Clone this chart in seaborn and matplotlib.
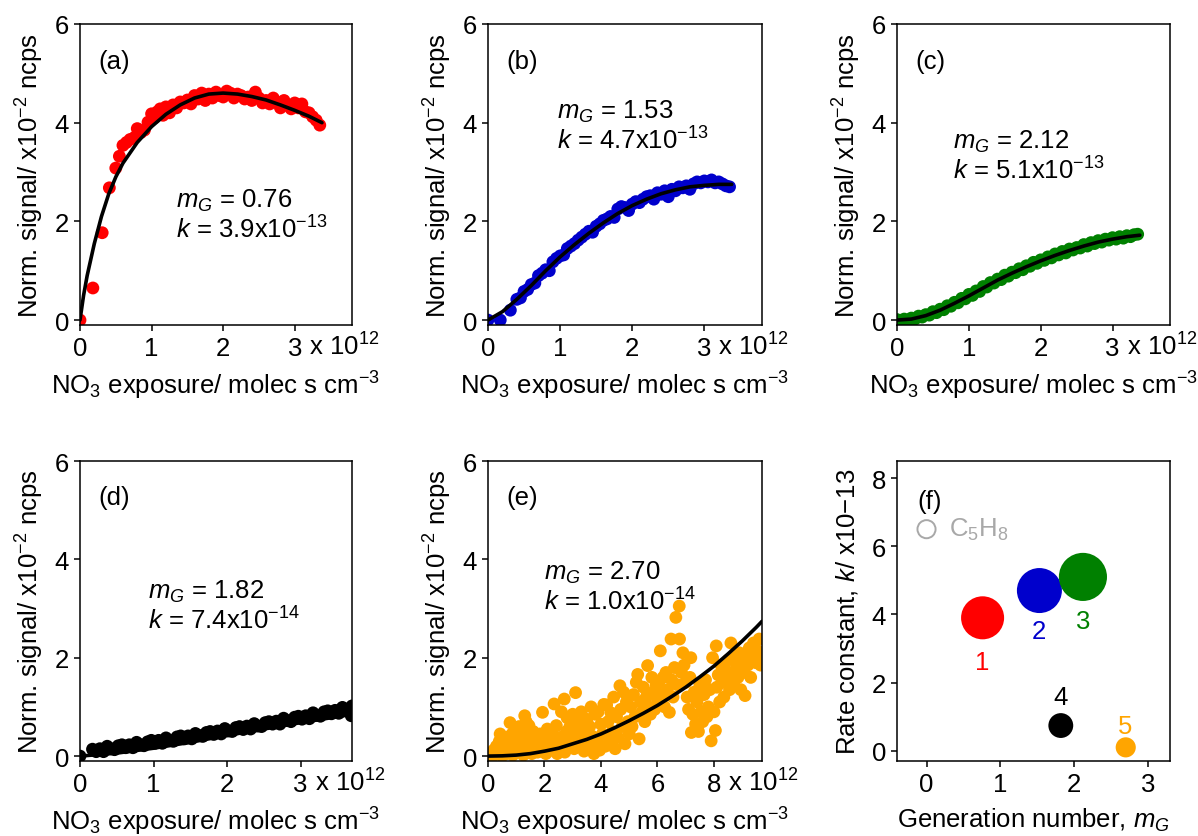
import matplotlib
matplotlib.use("Agg")
import matplotlib.pyplot as plt
import numpy as np
import pandas as pd
import seaborn as sns

# ---------------- data ----------------
# (a) red
a_x = [0.00, 0.18, 0.31, 0.41, 0.50, 0.55, 0.60, 0.65, 0.70, 0.76, 0.80, 0.85, 0.90, 0.95, 1.00, 1.04, 1.08,
       1.12, 1.16, 1.20, 1.25, 1.30, 1.35, 1.40, 1.45, 1.50, 1.55, 1.60, 1.65, 1.70, 1.75, 1.80, 1.85, 1.90,
       1.95, 2.00, 2.05, 2.10, 2.15, 2.20, 2.25, 2.30, 2.35, 2.40, 2.45, 2.50, 2.55, 2.60, 2.65, 2.70, 2.75,
       2.80, 2.85, 2.90, 2.95, 3.00, 3.05, 3.10, 3.15, 3.20, 3.25, 3.30, 3.35]
a_y = [0.00, 0.65, 1.77, 2.68, 3.08, 3.32, 3.54, 3.60, 3.66, 3.70, 3.88, 3.80, 3.85, 4.01, 4.18, 4.10, 4.22,
       4.28, 4.15, 4.32, 4.20, 4.36, 4.30, 4.42, 4.40, 4.46, 4.38, 4.55, 4.48, 4.60, 4.45, 4.58, 4.50, 4.62,
       4.55, 4.52, 4.64, 4.60, 4.50, 4.58, 4.55, 4.48, 4.52, 4.45, 4.62, 4.50, 4.40, 4.45, 4.38, 4.50, 4.42,
       4.30, 4.45, 4.35, 4.28, 4.40, 4.30, 4.38, 4.22, 4.20, 4.12, 4.05, 3.95]
a_fit_x = [0, 0.05, 0.1, 0.2, 0.3, 0.4, 0.5, 0.6, 0.8, 1.0, 1.2, 1.4, 1.6, 1.8, 2.0, 2.2, 2.4, 2.6, 2.8, 3.0, 3.2, 3.38]
a_fit_y = [0, 0.5, 0.9, 1.55, 2.1, 2.55, 2.9, 3.18, 3.6, 3.92, 4.17, 4.36, 4.5, 4.58, 4.6, 4.58, 4.53, 4.46,
           4.36, 4.25, 4.13, 4.0]

# (b) blue
b_x = [0.00, 0.17, 0.31, 0.40, 0.45, 0.50, 0.55, 0.60, 0.65, 0.70, 0.75, 0.80, 0.85, 0.90, 0.95, 1.00, 1.05,
       1.10, 1.15, 1.20, 1.25, 1.30, 1.35, 1.40, 1.45, 1.50, 1.55, 1.60, 1.65, 1.70, 1.75, 1.80, 1.85, 1.90,
       1.95, 2.00, 2.05, 2.10, 2.15, 2.20, 2.25, 2.30, 2.35, 2.40, 2.45, 2.50, 2.55, 2.60, 2.65, 2.70, 2.75,
       2.80, 2.85, 2.90, 2.95, 3.00, 3.05, 3.10, 3.15, 3.20, 3.25, 3.30, 3.35]
b_y = [0.00, 0.00, 0.20, 0.42, 0.45, 0.58, 0.62, 0.72, 0.75, 0.90, 0.95, 1.02, 1.00, 1.18, 1.25, 1.30, 1.32,
       1.45, 1.50, 1.55, 1.62, 1.68, 1.74, 1.80, 1.78, 1.90, 1.95, 2.02, 2.05, 2.10, 2.08, 2.25, 2.30, 2.28,
       2.22, 2.35, 2.40, 2.38, 2.45, 2.50, 2.52, 2.45, 2.58, 2.55, 2.62, 2.50, 2.65, 2.62, 2.70, 2.68, 2.72,
       2.65, 2.76, 2.80, 2.78, 2.82, 2.80, 2.84, 2.78, 2.80, 2.76, 2.72, 2.70]
b_fit_x = [0, 0.2, 0.4, 0.6, 0.8, 1.0, 1.2, 1.4, 1.6, 1.8, 2.0, 2.2, 2.4, 2.6, 2.8, 3.0, 3.2, 3.38]
b_fit_y = [0, 0.17, 0.42, 0.7, 1.0, 1.28, 1.53, 1.76, 1.97, 2.16, 2.32, 2.45, 2.56, 2.64, 2.70, 2.73, 2.75, 2.75]

# (c) green
c_x = [0.00, 0.05, 0.10, 0.15, 0.20, 0.25, 0.30, 0.35, 0.40, 0.45, 0.50, 0.55, 0.60, 0.65, 0.70, 0.75, 0.80,
       0.85, 0.90, 0.95, 1.00, 1.05, 1.10, 1.15, 1.20, 1.25, 1.30, 1.35, 1.40, 1.45, 1.50, 1.55, 1.60, 1.65,
       1.70, 1.75, 1.80, 1.85, 1.90, 1.95, 2.00, 2.05, 2.10, 2.15, 2.20, 2.25, 2.30, 2.35, 2.40, 2.45, 2.50,
       2.55, 2.60, 2.65, 2.70, 2.75, 2.80, 2.85, 2.90, 2.95, 3.00, 3.05, 3.10, 3.15, 3.20, 3.25, 3.30, 3.35]
c_y = [0.01, -0.01, 0.02, 0.00, 0.04, 0.02, 0.08, 0.06, 0.11, 0.10, 0.17, 0.15, 0.22, 0.21, 0.29, 0.28, 0.36,
       0.35, 0.44, 0.43, 0.52, 0.50, 0.59, 0.58, 0.68, 0.67, 0.76, 0.75, 0.83, 0.82, 0.91, 0.89, 0.97, 0.96,
       1.04, 1.02, 1.10, 1.09, 1.17, 1.15, 1.22, 1.21, 1.28, 1.26, 1.34, 1.32, 1.39, 1.36, 1.44, 1.42, 1.47,
       1.46, 1.53, 1.50, 1.57, 1.55, 1.61, 1.58, 1.64, 1.62, 1.67, 1.64, 1.69, 1.66, 1.71, 1.69, 1.73, 1.74]
c_fit_x = [0, 0.2, 0.4, 0.6, 0.8, 1.0, 1.2, 1.4, 1.6, 1.8, 2.0, 2.2, 2.4, 2.6, 2.8, 3.0, 3.2, 3.38]
c_fit_y = [0, 0.02, 0.09, 0.20, 0.34, 0.49, 0.65, 0.81, 0.95, 1.08, 1.20, 1.31, 1.41, 1.50, 1.58, 1.64, 1.69, 1.72]

# (d) black
d_x = [0.00, 0.17, 0.22, 0.27, 0.32, 0.37, 0.42, 0.47, 0.52, 0.57, 0.62, 0.67, 0.72, 0.77, 0.82, 0.87, 0.92,
       0.97, 1.02, 1.07, 1.12, 1.17, 1.22, 1.27, 1.32, 1.37, 1.42, 1.47, 1.52, 1.57, 1.62, 1.67, 1.72, 1.77,
       1.82, 1.87, 1.92, 1.97, 2.02, 2.07, 2.12, 2.17, 2.22, 2.27, 2.32, 2.37, 2.42, 2.47, 2.52, 2.57, 2.62,
       2.67, 2.72, 2.77, 2.82, 2.87, 2.92, 2.97, 3.02, 3.07, 3.12, 3.17, 3.22, 3.27, 3.32, 3.37, 3.42, 3.47,
       3.52, 3.57, 3.62, 3.67, 3.69, 3.70]
d_y = [0.00, 0.14, 0.09, 0.15, 0.09, 0.20, 0.15, 0.13, 0.21, 0.23, 0.17, 0.23, 0.17, 0.28, 0.23, 0.21, 0.29,
       0.32, 0.26, 0.32, 0.26, 0.37, 0.32, 0.30, 0.39, 0.41, 0.35, 0.41, 0.35, 0.46, 0.42, 0.40, 0.48, 0.50,
       0.44, 0.51, 0.45, 0.56, 0.51, 0.50, 0.58, 0.60, 0.54, 0.61, 0.55, 0.66, 0.61, 0.60, 0.68, 0.70, 0.65,
       0.71, 0.65, 0.77, 0.72, 0.70, 0.79, 0.81, 0.75, 0.82, 0.76, 0.88, 0.83, 0.81, 0.90, 0.92, 0.86, 0.93,
       0.87, 0.99, 0.94, 0.93, 0.82, 1.02]
d_fit_x = [0, 0.5, 1.0, 1.5, 2.0, 2.5, 3.0, 3.5, 3.7]
d_fit_y = [0, 0.06, 0.16, 0.28, 0.42, 0.55, 0.68, 0.80, 0.85]

# (e) orange
e_x = [0.05, 0.10, 0.15, 0.20, 0.25, 0.30, 0.35, 0.40, 0.43, 0.45, 0.50, 0.55, 0.60, 0.62, 0.65, 0.70, 0.75,
       0.78, 0.80, 0.85, 0.88, 0.90, 0.95, 0.98,
       1.00, 1.05, 1.10, 1.12, 1.15, 1.20, 1.25, 1.28, 1.30, 1.32, 1.35, 1.40, 1.42, 1.45, 1.50, 1.52, 1.55,
       1.60, 1.62, 1.65, 1.70, 1.75, 1.78, 1.80, 1.85, 1.90, 1.93, 1.95, 2.00,
       2.05, 2.10, 2.15, 2.20, 2.25, 2.30, 2.34, 2.38, 2.42, 2.45, 2.50, 2.55, 2.60, 2.65, 2.70, 2.72, 2.78,
       2.80, 2.85, 2.90, 2.95, 3.00,
       3.05, 3.10, 3.15, 3.20, 3.25, 3.30, 3.35, 3.40, 3.45, 3.50, 3.55, 3.60, 3.65, 3.70, 3.75, 3.80, 3.85,
       3.90, 3.95, 4.00,
       4.05, 4.10, 4.15, 4.20, 4.25, 4.30, 4.35, 4.40, 4.45, 4.50, 4.55, 4.60, 4.67, 4.70, 4.75, 4.80, 4.85,
       4.90, 4.95, 5.00,
       5.05, 5.10, 5.15, 5.20, 5.25, 5.30, 5.35, 5.40, 5.45, 5.50, 5.55, 5.60, 5.65, 5.70, 5.75, 5.80, 5.85,
       5.90, 5.95, 6.00,
       6.05, 6.10, 6.15, 6.20, 6.25, 6.30, 6.35, 6.42, 6.48, 6.50, 6.55, 6.60, 6.65, 6.70, 6.77, 6.78, 6.85,
       6.90, 6.94, 7.00,
       7.05, 7.10, 7.15, 7.18, 7.20, 7.25, 7.30, 7.35, 7.40, 7.45, 7.50, 7.55, 7.60, 7.65, 7.70, 7.75, 7.80,
       7.85, 7.90, 7.95, 8.00,
       8.05, 8.08, 8.10, 8.15, 8.20, 8.25, 8.30, 8.35, 8.40, 8.45, 8.50, 8.55, 8.60, 8.65, 8.70, 8.75, 8.80,
       8.85, 8.90, 8.95, 9.00, 9.05, 9.10, 9.15, 9.20, 9.25, 9.30, 9.35, 9.40, 9.45, 9.48, 9.52, 9.56, 9.60,
       9.65]
e_y = [0.02, 0.05, 0.00, 0.12, 0.03, 0.20, 0.08, 0.30, 0.45, 0.15, 0.00, 0.25, 0.10, 0.38, 0.05, 0.20, 0.30,
       0.68, 0.12, 0.45, 0.02, 0.28, 0.18, 0.50,
       0.08, 0.35, 0.60, 0.15, 0.42, 0.25, 0.02, 0.55, 0.82, 0.30, 0.70, 0.12, 0.45, 0.62, 0.20, 0.35, 0.05,
       0.50, 0.28, 0.15, 0.40, 0.08, 0.30, 0.20, 0.45, 0.10, 0.89, 0.25, 0.38,
       0.05, 0.55, 0.20, 0.30, 0.12, 0.45, 1.06, 0.25, 0.62, 0.05, 0.35, 0.18, 0.90, 0.40, 1.16, 0.08, 0.50,
       0.78, 0.22, 0.60, 0.32, 0.85,
       0.15, 1.29, 0.48, 0.70, 0.25, 0.90, 0.55, 0.10, 0.35, 0.75, 0.20, 0.60, 1.00, 0.40, 0.05, 0.85, 0.30,
       0.90, 0.12, 0.65,
       0.45, 1.05, 0.20, 1.04, 0.70, 0.30, 0.88, 0.50, 1.20, 0.15, 0.80, 0.38, 1.43, 0.95, 0.60, 1.30, 0.25,
       1.10, 0.70, 0.45,
       1.00, 0.60, 1.25, 0.80, 1.50, 1.66, 0.35, 1.10, 0.90, 1.40, 0.70, 1.20, 1.84, 1.00, 0.85, 1.60, 1.30,
       0.95, 1.45, 1.15,
       1.50, 2.14, 1.25, 1.60, 1.00, 1.70, 1.35, 0.89, 2.38, 1.55, 1.20, 1.80, 2.82, 1.45, 3.05, 2.38, 1.70,
       2.10, 1.85, 1.50,
       1.20, 0.95, 1.60, 2.00, 0.48, 0.85, 1.30, 0.65, 1.10, 0.50, 1.45, 0.90, 0.70, 1.25, 1.55, 0.80, 1.00,
       1.35, 0.31, 2.00, 0.90,
       0.52, 2.24, 1.40, 1.65, 1.10, 1.85, 1.50, 1.20, 1.75, 1.55, 1.95, 1.35, 2.30, 1.70, 1.45, 2.00, 1.80,
       1.60, 2.10, 1.35, 1.90, 1.70, 1.23, 2.05, 1.85, 2.20, 1.60, 2.00, 2.30, 1.95, 1.90, 2.15, 2.00, 2.38,
       1.85]
e_fit_x = [0, 0.5, 1, 1.5, 2, 2.5, 3, 3.5, 4, 4.5, 5, 5.5, 6, 6.5, 7, 7.5, 8, 8.5, 9, 9.5, 9.7]
e_fit_y = [0, 0.005, 0.02, 0.05, 0.10, 0.16, 0.25, 0.34, 0.45, 0.58, 0.72, 0.87, 1.03, 1.21, 1.40, 1.61,
           1.83, 2.08, 2.34, 2.62, 2.74]

# (f) summary
f_labels = ["1", "2", "3", "4", "5"]
f_mG = [0.76, 1.53, 2.12, 1.82, 2.70]
f_k = [3.9, 4.7, 5.1, 0.74, 0.10]
f_colors = ["#ff0000", "#0000cc", "#008000", "#000000", "#ffa500"]
f_sizes = [960, 1050, 1200, 320, 210]
f_lab_pos = [(0.76, 2.6), (1.52, 3.5), (2.12, 3.8), (1.82, 1.58), (2.69, 0.73)]
isoprene_pos = (0.0, 6.5)

# ---------------- style ----------------
FS = 18.5
sns.set_style("ticks")
plt.rcParams.update({
    "font.family": ["Liberation Sans", "DejaVu Sans"],
    "font.size": FS,
    "mathtext.fontset": "custom",
    "mathtext.rm": "Liberation Sans",
    "mathtext.it": "Liberation Sans:italic",
    "mathtext.default": "regular",
    "axes.linewidth": 1.1,
    "axes.edgecolor": "black",
    "axes.labelcolor": "black",
    "text.color": "black",
    "xtick.color": "black",
    "ytick.color": "black",
    "xtick.direction": "out",
    "ytick.direction": "out",
    "xtick.major.size": 4,
    "ytick.major.size": 4,
    "xtick.major.width": 1.1,
    "ytick.major.width": 1.1,
    "xtick.major.pad": 4,
    "ytick.major.pad": 4,
    "xtick.labelsize": FS,
    "ytick.labelsize": FS,
    "axes.labelsize": FS,
})

fig = plt.figure(figsize=(11.98, 8.37), dpi=100)
W, H = 1198, 837


def make_ax(l, r, t, b):
    return fig.add_axes([l / W, 1 - b / H, (r - l) / W, (b - t) / H])


cols = [(80, 352), (488, 762), (897, 1170)]
rows = [(25, 326), (462, 762)]

XLAB = r"NO$_3$ exposure/ molec s cm$^{-3}$"
YLAB = r"Norm. signal/ x10$^{-2}$ ncps"

# ann = (left x, baseline of the second line) in axes fractions
panels = [
    dict(x=a_x, y=a_y, fx=a_fit_x, fy=a_fit_y, c="#ff0000", xlim=3.8, ticks=[0, 1, 2, 3], letter="(a)",
         ann=(0.353, 0.289), m="0.76", k="3.9x10$^{-13}$", pos=(0, 0)),
    dict(x=b_x, y=b_y, fx=b_fit_x, fy=b_fit_y, c="#0000cc", xlim=3.8, ticks=[0, 1, 2, 3], letter="(b)",
         ann=(0.251, 0.585), m="1.53", k="4.7x10$^{-13}$", pos=(0, 1)),
    dict(x=c_x, y=c_y, fx=c_fit_x, fy=c_fit_y, c="#008000", xlim=3.8, ticks=[0, 1, 2, 3], letter="(c)",
         ann=(0.205, 0.485), m="2.12", k="5.1x10$^{-13}$", pos=(0, 2)),
    dict(x=d_x, y=d_y, fx=d_fit_x, fy=d_fit_y, c="#000000", xlim=3.7, ticks=[0, 1, 2, 3], letter="(d)",
         ann=(0.25, 0.44), m="1.82", k="7.4x10$^{-14}$", pos=(1, 0)),
    dict(x=e_x, y=e_y, fx=e_fit_x, fy=e_fit_y, c="#ffa500", xlim=9.7, ticks=[0, 2, 4, 6, 8], letter="(e)",
         ann=(0.204, 0.503), m="2.70", k="1.0x10$^{-14}$", pos=(1, 1)),
]

tick_base = 4 + 4 + 0.716 * FS  # points from axis to tick-label baseline

for p in panels:
    r, cidx = p["pos"]
    ax = make_ax(cols[cidx][0], cols[cidx][1], rows[r][0], rows[r][1])
    sns.scatterplot(x=p["x"], y=p["y"], color=p["c"], s=85, edgecolor="none", linewidth=0, ax=ax,
                    zorder=2, legend=False)
    sns.lineplot(x=p["fx"], y=p["fy"], color="black", lw=2.6, ax=ax, zorder=3, estimator=None, sort=False)
    ax.set_xlim(0, p["xlim"])
    ax.set_ylim(-0.1, 6)
    ax.set_yticks([0, 2, 4, 6])
    ax.set_xticks(p["ticks"])
    ax.set_xticklabels([str(t) for t in p["ticks"]])
    ax.set_xlabel(XLAB, labelpad=6)
    ax.set_ylabel(YLAB, labelpad=6)
    ax.annotate(r" x 10$^{12}$", xy=(p["ticks"][-1], 0), xycoords=("data", "axes fraction"),
                xytext=(0.278 * FS, -tick_base), textcoords="offset points", ha="left", va="baseline",
                fontsize=FS)
    ax.text(0.068, 0.855, p["letter"], transform=ax.transAxes, ha="left", va="baseline", fontsize=FS)
    axx, y2 = p["ann"]
    ax.text(axx, y2, r"$\mathit{m_G}$ = " + p["m"] + "\n" + r"$\mathit{k}$ = " + p["k"],
            transform=ax.transAxes, ha="left", va="baseline", fontsize=FS, linespacing=1.12)

# panel (f)
axf = make_ax(cols[2][0], cols[2][1], rows[1][0], rows[1][1])
df_f = pd.DataFrame({"mG": f_mG, "k": f_k, "lab": f_labels})
sns.scatterplot(data=df_f, x="mG", y="k", hue="lab", palette=dict(zip(f_labels, f_colors)),
                size="lab", sizes=dict(zip(f_labels, f_sizes)), edgecolor="none", linewidth=0,
                legend=False, ax=axf, zorder=3)
for lab, (lx, ly), col in zip(f_labels, f_lab_pos, f_colors):
    axf.text(lx, ly, lab, color=col, ha="center", va="center", fontsize=FS)
sns.scatterplot(x=[isoprene_pos[0]], y=[isoprene_pos[1]], s=170, facecolor="none", edgecolor="#a8a8a8",
                linewidth=1.4, ax=axf, legend=False)
axf.text(isoprene_pos[0] + 0.3, isoprene_pos[1], r"C$_5$H$_8$", color="#a8a8a8", ha="left", va="center",
         fontsize=FS)
axf.text(0.073, 0.845, "(f)", transform=axf.transAxes, ha="left", va="baseline", fontsize=FS)
axf.set_xlim(-0.4, 3.3)
axf.set_ylim(-0.3, 8.5)
axf.set_xticks([0, 1, 2, 3])
axf.set_yticks([0, 2, 4, 6, 8])
axf.set_xlabel(r"Generation number, $\mathit{m_G}$", labelpad=7)
axf.set_ylabel(r"Rate constant, $\mathit{k}$/ x10−13", labelpad=8)

fig.savefig("out.png", dpi=100)
